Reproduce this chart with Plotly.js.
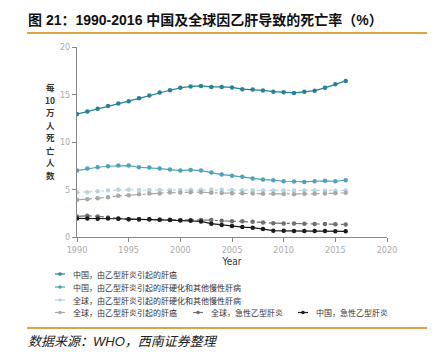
<!DOCTYPE html>
<html><head><meta charset="utf-8">
<script src="https://cdn.plot.ly/plotly-3.0.1.min.js"></script>
<style>html,body{margin:0;padding:0;background:#fff;}#c{width:438px;height:354px;}</style>
</head><body><div id="c"></div>
<script>
const years = [1990,1991,1992,1993,1994,1995,1996,1997,1998,1999,2000,2001,2002,2003,2004,2005,2006,2007,2008,2009,2010,2011,2012,2013,2014,2015,2016];
const chinaLiverCancer = [12.94,13.2,13.5,13.8,14.05,14.3,14.6,14.9,15.2,15.45,15.7,15.85,15.9,15.8,15.8,15.75,15.56,15.53,15.43,15.3,15.25,15.17,15.28,15.4,15.7,16.09,16.43];
const chinaCirrhosis = [6.99,7.2,7.34,7.45,7.52,7.52,7.34,7.31,7.2,7.1,6.99,7.06,6.99,6.78,6.57,6.46,6.33,6.15,6.05,5.98,5.87,5.84,5.8,5.87,5.91,5.87,5.98];
const globalCirrhosis = [4.68,4.72,4.82,4.89,4.97,4.98,4.95,4.95,4.95,4.95,4.95,4.97,4.98,5.0,4.97,4.95,4.93,4.92,4.9,4.9,4.9,4.9,4.9,4.9,4.88,4.88,4.9];
const globalLiverCancer = [3.91,3.98,4.08,4.19,4.33,4.4,4.5,4.58,4.58,4.68,4.68,4.72,4.72,4.65,4.62,4.6,4.6,4.58,4.55,4.55,4.53,4.5,4.55,4.55,4.58,4.6,4.65];
const globalAcuteHepB = [2.17,2.24,2.17,2.06,1.95,1.88,1.85,1.85,1.81,1.81,1.78,1.78,1.78,1.78,1.71,1.67,1.67,1.6,1.53,1.46,1.43,1.42,1.4,1.38,1.36,1.34,1.32];
const chinaAcuteHepB = [1.96,1.96,1.92,1.96,1.92,1.88,1.88,1.88,1.81,1.78,1.74,1.71,1.64,1.4,1.26,1.15,1.05,0.98,0.84,0.67,0.65,0.64,0.63,0.62,0.62,0.61,0.6];

const seriesNames = ["中国，由乙型肝炎引起的肝癌","中国，由乙型肝炎引起的肝硬化和其他慢性肝病","全球，由乙型肝炎引起的肝硬化和其他慢性肝病","全球，由乙型肝炎引起的肝癌","全球，急性乙型肝炎","中国，急性乙型肝炎"];
const yTitleParts = ["每","10","万","人","死","亡","人","数"];
const seriesData = [chinaLiverCancer, chinaCirrhosis, globalCirrhosis, globalLiverCancer, globalAcuteHepB, chinaAcuteHepB];
const colors = ["#27809a","#4da3b8","#b8d6e0","#a8a8a8","#6f6f6f","#1c1c1c"];
const dashes = ["solid","solid","dot","dashdot","dashdot","solid"];

const traces = seriesData.map((d,i)=>({
  x: years, y: d, type:"scatter", mode:"lines+markers", name: seriesNames[i],
  line:{color:colors[i], width:1.2, dash:dashes[i]},
  marker:{color:colors[i], size:4.5},
  showlegend:false, hoverinfo:"skip"
}));

const W=438, H=354, L=77, R=51, T=47, B=117;
const PW=W-L-R, PH=H-T-B;
const px = x => (x-L)/PW, py = y => (H-B-y)/PH;
const shapes = [
  {type:"line", xref:"paper", yref:"paper", x0:px(27), x1:px(427), y0:py(33), y1:py(33), line:{color:"#d9a545", width:2}},
  {type:"line", xref:"paper", yref:"paper", x0:px(27), x1:px(427), y0:py(328), y1:py(328), line:{color:"#d9a545", width:2}}
];
const annotations = [
  {text:"<b>图 21：1990-2016 中国及全球因乙肝导致的死亡率（%）</b>", xref:"paper", yref:"paper", x:px(26), y:py(20), xanchor:"left", yanchor:"middle", showarrow:false, font:{family:"Liberation Sans, Noto Sans CJK SC, sans-serif", size:14, color:"#111"}},
  {text:"<i>数据来源：WHO，西南证券整理</i>", xref:"paper", yref:"paper", x:px(26), y:py(341), xanchor:"left", yanchor:"middle", showarrow:false, font:{family:"Liberation Sans, Noto Sans CJK SC, sans-serif", size:13, color:"#222"}}
];
const yTitleY = [87,99.5,112,124.5,137,149.5,162,174.5];
yTitleParts.forEach((t,i)=>{
  annotations.push({text:"<b>"+t+"</b>", xref:"paper", yref:"paper", x:px(50), y:py(yTitleY[i]), xanchor:"center", yanchor:"middle", showarrow:false, borderpad:0, font:{family:"Noto Sans CJK SC, sans-serif", size:8.5, color:"#333"}});
});
const legendPos = [[60,274],[60,287],[60,300],[60,312.5],[198,312.5],[303,312.5]];
legendPos.forEach((p,i)=>{
  shapes.push({type:"line", xref:"paper", yref:"paper", x0:px(p[0]-5), x1:px(p[0]+5), y0:py(p[1]), y1:py(p[1]), line:{color:colors[i], width:1.2}});
  shapes.push({type:"circle", xref:"paper", yref:"paper", x0:px(p[0]-1.8), x1:px(p[0]+1.8), y0:py(p[1]-1.8), y1:py(p[1]+1.8), fillcolor:colors[i], line:{color:colors[i], width:0}});
  annotations.push({text:seriesNames[i], xref:"paper", yref:"paper", x:px(p[0]+11), y:py(p[1]), xanchor:"left", yanchor:"middle", showarrow:false, font:{family:"Noto Sans CJK SC, sans-serif", size:8, color:"#333"}});
});

const layout = {
  width:W, height:H, paper_bgcolor:"#fff", plot_bgcolor:"#fff",
  margin:{l:L, r:R, t:T, b:B},
  xaxis:{range:[1990,2020], tickvals:[1990,1995,2000,2005,2010,2015,2020], showgrid:false, zeroline:false,
    showline:true, linecolor:"#888", linewidth:1, ticks:"outside", ticklen:4, tickcolor:"#888",
    tickfont:{family:"Liberation Sans Narrow, DejaVu Sans Condensed, sans-serif", size:9, color:"#aaa"},
    title:{text:"Year", standoff:4, font:{family:"Liberation Sans Narrow, DejaVu Sans Condensed, sans-serif", size:10, color:"#333"}}},
  yaxis:{range:[0,20], tickvals:[0,5,10,15,20], showgrid:false, zeroline:false,
    showline:true, linecolor:"#888", linewidth:1, ticks:"outside", ticklen:4, tickcolor:"#888",
    tickfont:{family:"Liberation Sans Narrow, DejaVu Sans Condensed, sans-serif", size:9, color:"#aaa"}},
  shapes:shapes, annotations:annotations, showlegend:false
};
Plotly.newPlot("c", traces, layout, {displayModeBar:false, staticPlot:true});
</script></body></html>
